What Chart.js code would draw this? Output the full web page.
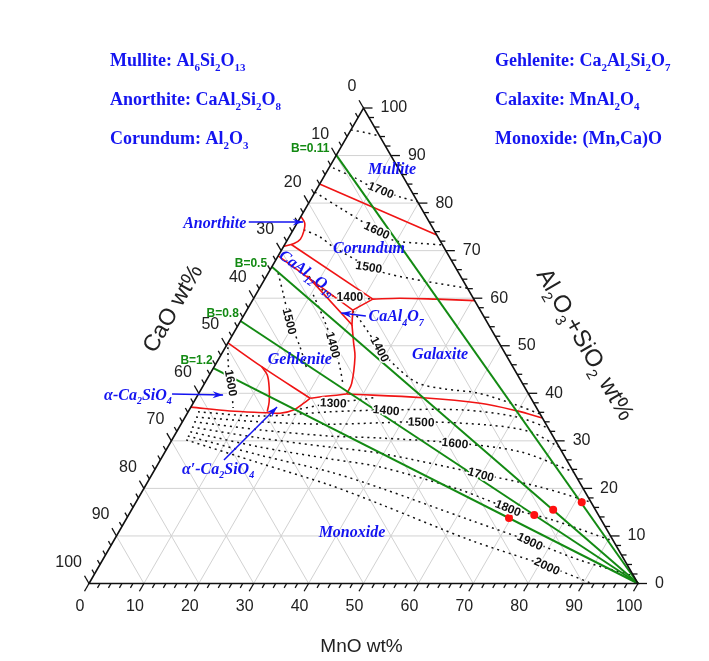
<!DOCTYPE html>
<html>
<head>
<meta charset="utf-8">
<title>CaO - MnO - (Al2O3+SiO2)</title>
<script src="https://cdn.jsdelivr.net/npm/chart.js@4.4.1/dist/chart.umd.min.js"></script>
<style>
  html, body { margin: 0; padding: 0; background: #fff; }
  canvas { display: block; }
</style>
</head>
<body>
<canvas id="diagram" width="709" height="661" style="width:709px;height:661px"></canvas>
<script>
// every composition is [MnO wt%, Al2O3+SiO2 wt%], CaO is what is left
const tickValues = [0, 10, 20, 30, 40, 50, 60, 70, 80, 90, 100];

const basicityNames = ['B=0.11', 'B=0.5', 'B=0.8', 'B=1.2'];
const basicityStart = [90.1, 66.6, 55.2, 45.3];   // Al2O3+SiO2 on the MnO-free side

const measured = [[69.6, 13.8], [73.9, 14.4], [76.8, 15.5], [81.2, 17.1]];

// phase boundaries (red)
const mulliteCorundum = [[0, 84.0], [26.7, 73.3]];
const anorthiteField = [[0, 77.2], [1.4, 75.8], [2.1, 74.0], [2.3, 72.4], [1.6, 71.5], [0, 70.9]];
const hiboniteUpper = [[1.2, 71.3], [21.8, 59.8]];
const hiboniteLower = [[0, 68.9], [19.3, 57.5], [21.8, 59.8]];
const grossiteField = [[7.4, 64.7], [20.7, 54.4], [19.3, 57.5]];
const corundumGalaxite = [[21.8, 59.8], [26.6, 60.0], [33.5, 59.8], [40.5, 59.5]];
const gehleniteGalaxite = [[20.7, 54.4], [22.9, 50.6], [24.6, 47.7], [26.8, 42.1], [27.0, 39.85]];
const galaxiteMonoxide = [[27.0, 39.85], [41.3, 39.07], [52.3, 37.9], [59.8, 36.3], [65.2, 34.8]];
const gehleniteLower = [[20.8, 38.95], [23.8, 39.43], [27.0, 39.85]];
const gehleniteC2S = [[0, 50.6], [8.65, 45.6], [20.8, 38.95]];
const alphaPrimeField = [[8.65, 45.6], [10.55, 43.85], [12.3, 41.05], [13.7, 38.23], [14.4, 36.13]];
const monoxideTop = [[0, 37.1], [7.54, 36.28], [14.5, 35.92], [16.9, 35.79], [19.0, 36.49], [20.1, 37.9], [20.8, 38.95]];

// isotherms (dotted), degC
const iso1800top = [[0, 95.4], [2.85, 94.85], [5.9, 94.1]];
const iso1700top = [[0.75, 87.4], [5.8, 85.3], [9.4, 83.6], [16.0, 81.3], [19.7, 80.3]];
const iso1600top = [[0, 82.3], [7.05, 78.55], [11.1, 76.45], [15.3, 74.3], [19.3, 72.2], [24.5, 71.55], [28.8, 71.2]];
const iso1500top = [[1.9, 74.4], [5.6, 72.9], [9.1, 70.8], [17.7, 66.6], [21.6, 65.2], [29.8, 63.5], [37.9, 62.1]];
const iso1400top = [[6.6, 65.5], [11.0, 62.15], [14.2, 60.5], [17.4, 60.25], [21.8, 59.8]];
const iso1500geh = [[1.8, 65.3], [4.8, 61.1], [9.0, 55.2], [13.6, 49.7], [17.3, 44.9]];
const iso1400geh = [[10.5, 60.7], [14.6, 56.05], [19.4, 50.2], [22.95, 45.5], [25.4, 41.75]];
const iso1400gal = [[19.4, 57.3], [21.65, 55.4], [24.4, 52.9], [28.35, 49.3], [33.3, 45.5], [38.7, 42.2], [44.4, 40.9], [50.6, 40.1], [57.7, 38.0], [64.35, 35.65]];
const iso1600c2s = [[0.45, 49.7], [2.6, 45.6], [4.8, 42.2], [7.8, 36.9]];
const iso1300 = [[20.1, 36.7], [25.5, 38.0], [30.4, 38.7], [32.5, 39.1]];
const iso1400 = [[1.8, 36.1], [13.5, 35.2], [25.9, 36.1], [35.9, 36.5], [49.9, 36.5], [60.5, 35.0], [67.3, 32.7]];
const iso1500 = [[2.0, 35.0], [14.2, 34.0], [27.1, 33.5], [43.5, 34.0], [56.4, 33.3], [64.4, 31.9], [71.3, 28.7]];
const iso1600 = [[2.15, 34.0], [15.0, 32.3], [28.4, 31.0], [37.7, 30.6], [51.9, 29.55], [64.7, 27.7], [76.55, 23.45]];
const iso1700 = [[2.3, 32.9], [15.85, 30.6], [29.5, 28.7], [39.3, 27.4], [59.9, 23.0], [72.0, 20.3], [82.9, 17.1]];
const iso1800 = [[2.5, 31.9], [16.8, 28.7], [30.8, 26.2], [40.8, 24.5], [57.75, 19.7], [68.4, 15.9], [77.8, 13.35], [91.1, 8.9]];
const iso1900 = [[2.5, 31.0], [17.6, 27.0], [32.2, 23.45], [43.0, 20.1], [62.7, 13.35], [75.9, 8.9], [87.0, 4.9], [98.4, 1.6]];
const iso2000 = [[2.6, 30.2], [18.5, 25.3], [33.5, 20.7], [44.65, 16.7], [64.8, 9.15], [81.6, 3.7], [91.6, 0]];

const isoTexts = ['1700', '1600', '1500', '1400', '1500', '1400', '1400', '1600',
                  '1300', '1400', '1500', '1600', '1700', '1800', '1900', '2000'];
const phaseTexts = ['Mullite', 'Corundum', 'CaAl{12}O{19}', 'CaAl{4}O{7}', 'Gehlenite', 'Galaxite',
                    'Monoxide', 'Anorthite', '\u03b1-Ca{2}SiO{4}', '\u03b1\u2032-Ca{2}SiO{4}'];
const legendLeft = ['Mullite: Al{6}Si{2}O{13}', 'Anorthite: CaAl{2}Si{2}O{8}', 'Corundum: Al{2}O{3}'];
const legendRight = ['Gehlenite: Ca{2}Al{2}Si{2}O{7}', 'Calaxite: MnAl{2}O{4}', 'Monoxide: (Mn,Ca)O'];

// ---- layout (where the labels sit, in the same ternary units) ----
const isoLabelPos = [[11.8, 82.8, 22], [15.3, 74.3, 25], [17.7, 66.6, 10], [17.4, 60.25, 0], [9.0, 55.15, 76],
                     [19.4, 50.2, 75], [28.35, 49.3, 62], [4.8, 42.2, 80], [25.5, 38.0, 3], [35.9, 36.5, 5],
                     [43.5, 34.0, 2], [51.9, 29.55, 6], [59.9, 23.0, 15], [68.4, 15.9, 22], [75.9, 8.9, 25], [81.6, 3.7, 25]];
const phaseLabelPos = [[11.5, 87.4, 0], [15.7, 70.6, 0], [7.1, 65.5, 36], [27.8, 56.3, 0], [14.7, 47.4, 0],
                       [39.8, 48.3, 0], [42.4, 11.0, 0], [-15.1, 76.0, 0], [-11.0, 39.85, 0], [11.35, 24.3, 0]];
const arrowPos = [[[-8.9, 76.0], [1.0, 76.0]], [[-4.8, 39.85], [4.6, 39.64]],
                  [[11.6, 25.97], [15.7, 37.1]], [[22.3, 56.26], [17.5, 56.9]]];
const basicityLabelPos = [[-5.5, 91.6], [-4.2, 67.4], [-4.1, 56.9], [-3.9, 47.0]];

const SQ = Math.sqrt(3) / 2;
const toXY = p => ({ x: p[0] + p[1] / 2, y: p[1] * SQ });
const SANS = "'Liberation Sans', Arial, sans-serif";
const SERIF = "'Liberation Serif', 'Times New Roman', serif";
const BLUE = '#1414f0';
const GREEN = '#138a13';

function tp(chart, m, a) {
  return [chart.scales.x.getPixelForValue(m + a / 2), chart.scales.y.getPixelForValue(a * SQ)];
}

function seg(c, p, q) {
  c.beginPath(); c.moveTo(p[0], p[1]); c.lineTo(q[0], q[1]); c.stroke();
}

// text with {subscripts}; y is the vertical middle of the capitals
function richText(c, str, x, y, size, style, family, align, halo, subScale) {
  const parts = [];
  str.replace(/\{([^}]*)\}|([^{]+)/g, (s, sub, norm) => {
    parts.push(sub !== undefined ? [sub, true] : [norm, false]);
    return s;
  });
  const big = style + ' ' + size + 'px ' + family;
  const small = style + ' ' + Math.round(size * (subScale || 0.64)) + 'px ' + family;
  let w = 0;
  for (const [t, sub] of parts) { c.font = sub ? small : big; w += c.measureText(t).width; }
  let cx = align === 'center' ? x - w / 2 : (align === 'right' ? x - w : x);
  const base = y + size * 0.35;
  c.textAlign = 'left';
  c.textBaseline = 'alphabetic';
  for (const [t, sub] of parts) {
    c.font = sub ? small : big;
    const yy = base + (sub ? size * 0.28 : 0);
    if (halo) { c.save(); c.strokeStyle = '#fff'; c.lineWidth = 3; c.lineJoin = 'round'; c.strokeText(t, cx, yy); c.restore(); }
    c.fillText(t, cx, yy);
    cx += c.measureText(t).width;
  }
}

function arrow(c, p, q) {
  seg(c, p, q);
  const ang = Math.atan2(q[1] - p[1], q[0] - p[0]);
  c.beginPath();
  c.moveTo(q[0], q[1]);
  c.lineTo(q[0] - 11 * Math.cos(ang - 0.32), q[1] - 11 * Math.sin(ang - 0.32));
  c.lineTo(q[0] - 7 * Math.cos(ang), q[1] - 7 * Math.sin(ang));
  c.lineTo(q[0] - 11 * Math.cos(ang + 0.32), q[1] - 11 * Math.sin(ang + 0.32));
  c.closePath();
  c.fill();
}

const ternaryFrame = {
  id: 'ternaryFrame',
  beforeDraw(chart) {
    const c = chart.ctx;
    c.save();
    c.fillStyle = '#fff';
    c.fillRect(0, 0, chart.width, chart.height);
    c.restore();
  },
  beforeDatasetsDraw(chart) {
    const c = chart.ctx;
    c.save();
    c.strokeStyle = '#d2d2d2';
    c.lineWidth = 1;
    for (const v of tickValues) {
      if (v === 0 || v === 100) continue;
      seg(c, tp(chart, 0, v), tp(chart, 100 - v, v));
      seg(c, tp(chart, v, 0), tp(chart, v, 100 - v));
      seg(c, tp(chart, 0, 100 - v), tp(chart, 100 - v, 0));
    }
    c.restore();
  },
  afterDatasetsDraw(chart) {
    const c = chart.ctx;
    c.save();
    // triangle
    const L = tp(chart, 0, 0), R = tp(chart, 100, 0), T = tp(chart, 0, 100);
    c.strokeStyle = '#111';
    c.lineWidth = 1.6;
    c.beginPath(); c.moveTo(L[0], L[1]); c.lineTo(R[0], R[1]); c.lineTo(T[0], T[1]); c.closePath(); c.stroke();

    // ticks: bottom down-left, left up-left, right to the right
    c.lineWidth = 1.3;
    for (let v = 0; v <= 100; v += 2) {
      const len = v % 10 === 0 ? 9 : 5;
      const b = tp(chart, v, 0), l = tp(chart, 0, 100 - v), r = tp(chart, 100 - v, v);
      seg(c, b, [b[0] - 0.5 * len, b[1] + SQ * len]);
      seg(c, l, [l[0] - 0.5 * len, l[1] - SQ * len]);
      seg(c, r, [r[0] + len, r[1]]);
    }
    c.fillStyle = '#222';
    c.font = '16px ' + SANS;
    c.textBaseline = 'middle';
    for (const v of tickValues) {
      const b = tp(chart, v, 0), l = tp(chart, 0, 100 - v), r = tp(chart, 100 - v, v);
      c.textAlign = 'center'; c.fillText(String(v), b[0] - 9, b[1] + 23);
      c.textAlign = 'right'; c.fillText(String(v), l[0] - 7, l[1] - 21);
      c.textAlign = 'left'; c.fillText(String(v), r[0] + 17, r[1]);
    }

    // axis titles
    c.fillStyle = '#222';
    richText(c, 'MnO wt%', (L[0] + R[0]) / 2 - 2, 645, 19, '', SANS, 'center');
    c.save(); c.translate(172, 308); c.rotate(-Math.PI / 3);
    richText(c, 'CaO wt%', 0, 0, 23, '', SANS, 'center');
    c.restore();
    c.save(); c.translate(586, 344); c.rotate(Math.PI / 3);
    richText(c, 'Al{2}O{3}+SiO{2} wt%', 0, 0, 24, '', SANS, 'center', false, 0.62);
    c.restore();

    // isotherm labels
    c.fillStyle = '#111';
    isoTexts.forEach((t, i) => {
      const [m, a, rot] = isoLabelPos[i];
      const p = tp(chart, m, a);
      c.save(); c.translate(p[0], p[1]); c.rotate(rot * Math.PI / 180);
      richText(c, t, 0, 0, 12, 'bold', SANS, 'center', true);
      c.restore();
    });

    // phase labels and arrows
    c.fillStyle = BLUE;
    phaseTexts.forEach((t, i) => {
      const [m, a, rot] = phaseLabelPos[i];
      const p = tp(chart, m, a);
      c.save(); c.translate(p[0], p[1]); c.rotate(rot * Math.PI / 180);
      richText(c, t, 0, 0, 16, 'italic bold', SERIF, 'center');
      c.restore();
    });
    c.strokeStyle = BLUE;
    c.lineWidth = 1.5;
    arrowPos.forEach(([p, q]) => arrow(c, tp(chart, p[0], p[1]), tp(chart, q[0], q[1])));

    // basicity labels
    c.fillStyle = GREEN;
    basicityNames.forEach((t, i) => {
      const p = tp(chart, basicityLabelPos[i][0], basicityLabelPos[i][1]);
      richText(c, t, p[0], p[1], 12, 'bold', SANS, 'center');
    });

    // formula key
    c.fillStyle = BLUE;
    legendLeft.forEach((t, i) => richText(c, t, 110, 60 + i * 39, 18, 'bold', SERIF, 'left', false, 0.6));
    legendRight.forEach((t, i) => richText(c, t, 495, 60 + i * 39, 18, 'bold', SERIF, 'left', false, 0.6));
    c.restore();
  }
};

function lineSet(points, color, width, dash, tension, order) {
  return {
    data: points.map(toXY), showLine: true, borderColor: color, borderWidth: width,
    borderDash: dash, tension: tension, pointRadius: 0, fill: false, order: order, clip: false
  };
}

const redSets = [mulliteCorundum, anorthiteField, hiboniteUpper, hiboniteLower, grossiteField,
                 corundumGalaxite, gehleniteGalaxite, galaxiteMonoxide, gehleniteLower, gehleniteC2S,
                 alphaPrimeField, monoxideTop];
const isoSets = [iso1800top, iso1700top, iso1600top, iso1500top, iso1400top, iso1500geh, iso1400geh,
                 iso1400gal, iso1600c2s, iso1300, iso1400, iso1500, iso1600, iso1700, iso1800, iso1900, iso2000];

const datasets = [];
isoSets.forEach(s => datasets.push(lineSet(s, '#111', 1.5, [2, 4], 0.3, 4)));
redSets.forEach((s, i) => datasets.push(lineSet(s, '#f01414', 1.6, [], (i === 0 || i === 2 || i === 3 || i === 4) ? 0 : 0.35, 3)));
basicityStart.forEach(a => datasets.push(lineSet([[0, a], [100, 0]], GREEN, 2, [], 0, 2)));
datasets.push({
  data: measured.map(toXY), showLine: false, pointRadius: 4, pointBackgroundColor: '#ff1010',
  pointBorderWidth: 0, order: 1, clip: false
});

new Chart(document.getElementById('diagram'), {
  type: 'scatter',
  data: { datasets: datasets },
  options: {
    responsive: false,
    animation: false,
    layout: { padding: { left: 89, right: 71, top: 108, bottom: 77.5 } },
    scales: {
      x: { type: 'linear', min: 0, max: 100, display: false },
      y: { type: 'linear', min: 0, max: 100 * SQ, display: false }
    },
    plugins: { legend: { display: false }, tooltip: { enabled: false } }
  },
  plugins: [ternaryFrame]
});
</script>
</body>
</html>
